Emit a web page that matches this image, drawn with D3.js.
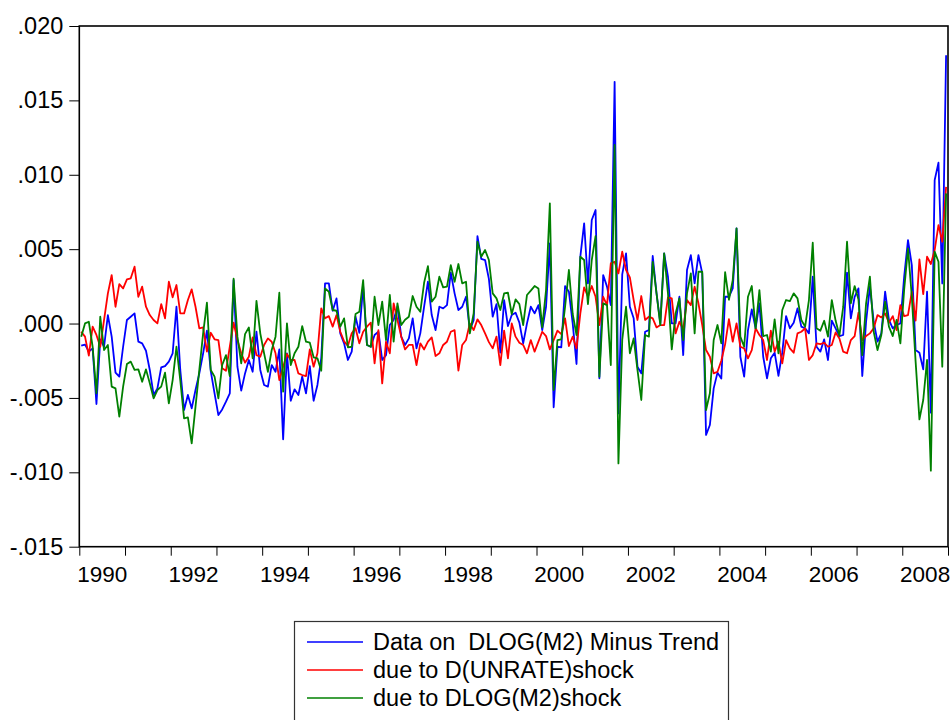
<!DOCTYPE html>
<html>
<head>
<meta charset="utf-8">
<script src="https://cdn.jsdelivr.net/npm/d3@7"></script>
<style>
  body { margin: 0; background: #fff; }
  svg { display: block; font-family: "Liberation Sans", Arial, sans-serif; }
</style>
</head>
<body>
<svg id="chart" width="952" height="720"></svg>
<script>
// Monthly observations, 1990M01 .. 2008M12
const firstYear = 1990;
const lastYear = 2008;

const seriesNames = [
  "Data on  DLOG(M2) Minus Trend",
  "due to D(UNRATE)shock",
  "due to DLOG(M2)shock"
];
const seriesColors = ["#0000ff", "#ff0000", "#008000"];

const yTickValues = [-0.015, -0.010, -0.005, 0.000, 0.005, 0.010, 0.015, 0.020];
const xLabelYears = [1990, 1992, 1994, 1996, 1998, 2000, 2002, 2004, 2006, 2008];

const dataM2MinusTrend = [
  -.00149,-.00142,-.00189,-.00167,-.00541,-.00106,-.00156,.00057,-.00088,-.00330,
  -.00357,-.00156,.00024,.00046,.00068,-.00122,-.00133,-.00183,-.00312,-.00480,
  -.00436,-.00295,-.00286,-.00256,-.00200,.00113,-.00312,-.00581,-.00480,-.00570,
  -.00447,-.00335,-.00200,-.00048,-.00320,-.00469,-.00615,-.00577,-.00525,-.00469,
  .00292,-.00290,-.00451,-.00335,-.00245,-.00324,-.00055,-.00312,-.00413,-.00424,
  -.00279,-.00324,-.00174,-.00778,-.00200,-.00519,-.00442,-.00480,-.00357,-.00469,
  -.00286,-.00519,-.00413,-.00234,.00270,.00270,.00086,.00169,-.00066,-.00133,
  -.00245,-.00189,.00046,-.00062,.00252,-.00144,-.00156,-.00077,-.00055,-.00245,
  -.00212,-.00010,.00024,.00113,-.00088,-.00144,-.00100,.00035,-.00167,-.00066,
  .00113,.00281,.00057,-.00044,.00113,.00102,.00124,.00342,.00203,.00091,
  .00113,.00180,-.00044,.00023,.00588,.00435,.00427,.00300,.00046,.00131,
  -.00196,.00158,-.00017,.00057,.00073,.00006,-.00133,.00001,.00113,.00068,
  .00124,-.00044,.00113,.00539,-.00563,-.00156,-.00160,.00252,.00214,.00001,
  -.00272,.00449,.00673,.00270,.00696,.00763,-.00368,.00326,.00248,.00124,
  .01625,-.00604,.00330,.00472,.00113,.00035,-.00290,-.00335,-.00055,-.00044,
  .00454,.00203,.00001,.00472,.00315,.00001,.00001,.00180,-.00212,.00360,
  .00460,.00270,.00460,.00337,-.00749,-.00682,-.00436,-.00330,-.00370,.00180,
  .00180,.00236,.00640,-.00223,-.00357,-.00044,.00095,-.00032,.00136,-.00223,
  -.00368,-.00234,-.00196,-.00351,-.00196,.00050,-.00032,.00006,.00102,-.00021,
  -.00032,-.00066,.00315,-.00156,-.00189,-.00106,-.00245,.00019,-.00032,-.00084,
  -.00077,.00342,.00035,.00180,.00236,-.00353,.00012,.00248,.00012,-.00122,
  -.00066,.00214,.00024,-.00032,-.00010,.00001,.00315,.00561,.00393,-.00178,
  -.00196,-.00308,.00214,-.00599,.00964,.01081,.00270,.01804
];

const dueToUnrateShock = [
  -.00055,-.00088,-.00216,-.00021,-.00077,-.00156,.00024,.00203,.00326,.00113,
  .00265,.00236,.00297,.00304,.00382,.00180,.00248,.00113,.00057,.00024,
  .00001,.00131,.00035,.00281,.00176,.00259,.00068,.00068,.00158,.00230,
  .00113,-.00032,-.00026,-.00189,-.00062,-.00106,-.00111,-.00301,-.00317,-.00156,
  .00006,-.00111,-.00200,-.00263,-.00223,-.00093,-.00212,-.00223,-.00144,-.00100,
  -.00122,-.00200,-.00380,-.00290,-.00205,-.00245,-.00245,-.00335,-.00346,-.00353,
  -.00174,-.00290,-.00200,.00102,.00035,.00050,-.00021,.00057,-.00055,-.00120,
  -.00150,-.00066,-.00032,-.00133,-.00055,-.00021,.00006,-.00268,-.00044,-.00402,
  -.00122,-.00200,.00136,.00024,-.00088,-.00174,-.00144,-.00144,-.00279,-.00133,
  -.00174,-.00122,-.00093,-.00218,-.00200,-.00144,-.00122,-.00055,-.00044,-.00317,
  -.00144,-.00111,.00001,-.00044,.00028,-.00010,-.00066,-.00125,-.00167,-.00088,
  -.00279,-.00048,-.00234,.00001,-.00088,-.00129,-.00144,-.00200,-.00111,-.00189,
  -.00122,-.00055,-.00084,-.00174,-.00111,-.00048,-.00071,.00035,-.00151,-.00088,
  -.00167,.00068,.00243,.00180,.00252,.00180,-.00010,.00180,.00124,.00404,
  .00415,.00337,.00483,.00360,.00310,.00158,.00024,.00185,.00024,.00046,
  .00035,-.00026,-.00010,-.00010,.00176,.00169,-.00066,.00012,-.00039,.00158,
  .00124,.00248,.00136,-.00010,-.00178,-.00223,-.00335,-.00324,-.00250,-.00140,
  .00030,-.00122,.00001,-.00156,-.00167,-.00234,-.00179,-.00032,-.00077,-.00111,
  -.00245,-.00048,-.00189,-.00122,-.00268,-.00111,-.00167,-.00196,-.00066,-.00055,
  -.00032,-.00245,-.00212,-.00133,-.00138,-.00129,-.00156,-.00144,-.00060,-.00100,
  -.00189,-.00200,-.00111,-.00084,.00073,-.00111,-.00084,-.00066,-.00032,.00057,
  .00041,.00068,.00006,.00050,-.00044,.00124,.00050,.00057,.00214,.00019,
  .00431,.00198,.00449,.00400,.00494,.00662,.00550,.00919
];

const dueToM2Shock = [
  -.00088,.00001,.00012,-.00156,-.00469,.00046,-.00178,-.00144,-.00424,-.00436,
  -.00626,-.00424,-.00272,-.00256,-.00312,-.00308,-.00391,-.00308,-.00402,-.00503,
  -.00447,-.00424,-.00330,-.00536,-.00380,-.00156,-.00380,-.00637,-.00631,-.00805,
  -.00559,-.00312,-.00066,.00140,-.00312,-.00357,-.00503,-.00279,-.00212,-.00353,
  .00301,-.00088,-.00268,-.00071,-.00026,-.00234,.00153,-.00066,-.00200,-.00324,
  -.00178,-.00088,.00207,-.00458,.00001,-.00279,-.00200,-.00156,-.00017,-.00122,
  -.00129,-.00227,-.00234,-.00317,.00236,.00214,.00091,.00086,-.00021,.00035,
  -.00160,-.00156,.00064,.00079,.00292,-.00144,-.00156,.00180,-.00010,.00147,
  -.00111,.00192,-.00122,.00136,-.00010,.00026,.00046,.00185,.00113,.00079,
  .00274,.00386,.00147,.00180,.00315,.00243,.00248,.00393,.00281,.00400,
  .00270,.00281,-.00066,.00068,.00550,.00449,.00494,.00427,.00203,.00169,
  .00091,.00203,.00207,.00064,.00162,.00131,-.00010,.00192,.00221,.00252,
  .00236,-.00026,.00225,.00808,-.00447,-.00111,-.00106,.00113,.00360,.00064,
  -.00077,.00449,.00427,.00131,.00427,.00588,-.00357,.00136,.00124,-.00279,
  .01200,-.00940,-.00110,.00113,-.00200,-.00100,-.00312,-.00514,-.00077,-.00088,
  .00415,.00203,-.00010,.00472,.00203,-.00174,.00068,.00169,-.00111,.00203,
  .00337,-.00066,.00348,.00348,-.00581,-.00469,-.00111,-.00010,-.00133,.00345,
  .00160,.00292,.00640,-.00088,-.00156,.00180,.00252,-.00032,.00225,-.00084,
  -.00077,-.00189,.00028,-.00200,.00091,.00158,.00151,.00203,.00169,.00024,
  -.00021,.00158,.00543,-.00032,-.00048,.00019,-.00088,.00158,.00020,-.00080,
  .00113,.00550,.00136,.00252,.00162,-.00212,.00136,.00315,-.00055,-.00178,
  -.00077,.00147,-.00021,-.00084,.00024,-.00133,.00230,.00505,.00180,-.00256,
  -.00644,-.00514,-.00245,-.00989,.00483,.00415,-.00290,.00875
];

const allSeries = [dataM2MinusTrend, dueToUnrateShock, dueToM2Shock];

// ---- layout ----
const plot = { left: 79.3, right: 948, top: 26, bottom: 546.7 };
const svg = d3.select("#chart");

// time axis in fractional years; each month sits in the middle of its slot
const x = d3.scaleLinear().domain([firstYear, lastYear + 1]).range([plot.left, plot.right]);
const y = d3.scaleLinear().domain([-0.015, 0.020]).range([plot.bottom, plot.top]);
const monthPos = i => firstYear + (i + 0.5) / 12;

// ".020", "-.015": no leading zero, plain hyphen for the sign
const fmt3 = d3.formatLocale({ decimal: ".", thousands: ",", grouping: [3], currency: ["", ""], minus: "-" }).format(".3f");
const fmt = v => fmt3(v).replace(/^(-?)0\./, "$1.");

// y axis
const yAxis = d3.axisLeft(y).tickValues(yTickValues).tickFormat(fmt).tickSize(10).tickPadding(6);
const gy = svg.append("g").attr("transform", `translate(${plot.left},0)`).call(yAxis);
gy.attr("font-family", null);
gy.select(".domain").remove();
gy.selectAll(".tick line").attr("stroke", "#000").attr("stroke-width", 1);
gy.selectAll(".tick text").attr("font-size", 23.5).attr("fill", "#000");

// x axis: a tick at each year boundary, labels on even years centred in their year
const yearTicks = d3.range(firstYear, lastYear + 2);
const xAxis = d3.axisBottom(x).tickValues(yearTicks).tickFormat("").tickSize(9);
const gx = svg.append("g").attr("transform", `translate(0,${plot.bottom})`).call(xAxis);
gx.select(".domain").remove();
gx.selectAll(".tick line").attr("stroke", "#000").attr("stroke-width", 1);

svg.append("g").selectAll("text").data(xLabelYears).join("text")
  .attr("x", d => x(d + 0.5))
  .attr("y", 581.5)
  .attr("text-anchor", "middle")
  .attr("font-size", 22.5)
  .attr("fill", "#000")
  .text(d => d);

// series lines (blue, then red, then green on top)
const line = d3.line().x((d, i) => x(monthPos(i))).y(d => y(d));
svg.append("g").selectAll("path").data(allSeries).join("path")
  .attr("d", d => line(d))
  .attr("fill", "none")
  .attr("stroke", (d, i) => seriesColors[i])
  .attr("stroke-width", 1.8)
  .attr("stroke-linejoin", "round");

// plot frame
svg.append("rect")
  .attr("x", plot.left).attr("y", plot.top)
  .attr("width", plot.right - plot.left).attr("height", plot.bottom - plot.top)
  .attr("fill", "none").attr("stroke", "#000").attr("stroke-width", 1.6);

// legend
const legend = svg.append("g").attr("transform", "translate(294,621)");
legend.append("rect")
  .attr("x", 0.5).attr("y", 0.5).attr("width", 434).attr("height", 110)
  .attr("fill", "#fff").attr("stroke", "#333").attr("stroke-width", 1.2);
const rows = legend.selectAll("g.row").data(seriesNames).join("g")
  .attr("class", "row")
  .attr("transform", (d, i) => `translate(0,${21 + i * 28})`);
rows.append("line")
  .attr("x1", 13).attr("x2", 69).attr("y1", 0).attr("y2", 0)
  .attr("stroke", (d, i) => seriesColors[i]).attr("stroke-width", 1.6);
rows.append("text")
  .attr("x", 79).attr("y", 8)
  .attr("font-size", 23.5)
  .attr("fill", "#000")
  .style("white-space", "pre")
  .text(d => d);
</script>
</body>
</html>
